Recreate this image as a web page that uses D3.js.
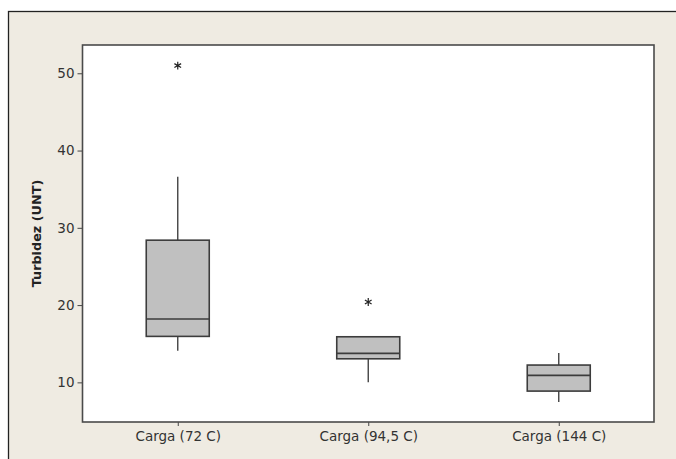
<!DOCTYPE html>
<html>
<head>
<meta charset="utf-8">
<script src="https://cdn.jsdelivr.net/npm/d3@7"></script>
<style>
  html, body { margin: 0; padding: 0; background: #fff; }
  svg { display: block; font-family: "DejaVu Sans", sans-serif; }
</style>
</head>
<body>
<div id="chart"></div>
<script>
//data
const categories = ["Carga (72 C)", "Carga (94,5 C)", "Carga (144 C)"];
const whiskerLow = [14.1, 10.0, 7.45];
const q1 = [15.95, 13.05, 8.87];
const median = [18.2, 13.75, 10.9];
const q3 = [28.4, 15.9, 12.24];
const whiskerHigh = [36.6, 15.9, 13.8];
const outliers = [[51.0], [20.4], []];
const yTicks = [10, 20, 30, 40, 50];
const yLabel = "Turbidez (UNT)";

const boxes = categories.map((c, i) => ({
  cat: c,
  lo: whiskerLow[i],
  q1: q1[i],
  med: median[i],
  q3: q3[i],
  hi: whiskerHigh[i],
  out: outliers[i],
}));

//size
const width = 676, height = 459;
const plot = { left: 82.5, top: 45, right: 654, bottom: 422 };

//scale
const xScale = d3.scalePoint()
  .domain(categories)
  .range([plot.left, plot.right])
  .padding(0.5);

const yScale = d3.scaleLinear()
  .domain([4.87, 53.66])
  .range([plot.bottom, plot.top]);

const boxHalf = 31.5;

//create element
const svg = d3.select("#chart").append("svg")
  .attr("width", width)
  .attr("height", height);

//outer panel
svg.append("rect")
  .attr("x", 8.5).attr("y", 11.5)
  .attr("width", width).attr("height", height)
  .attr("fill", "#efebe2")
  .attr("stroke", "#222")
  .attr("stroke-width", 1.3);

//plot area
svg.append("rect")
  .attr("x", plot.left).attr("y", plot.top)
  .attr("width", plot.right - plot.left)
  .attr("height", plot.bottom - plot.top)
  .attr("fill", "#fff");

//y-axis
const yAxis = svg.append("g")
  .attr("class", "axis y-axis")
  .attr("transform", `translate(${plot.left},0)`)
  .call(d3.axisLeft(yScale).tickValues(yTicks).tickSize(5).tickPadding(3).tickSizeOuter(0));
yAxis.select(".domain").remove();
yAxis.selectAll("line").attr("stroke", "#444");
yAxis.selectAll("text")
  .attr("font-size", 13.5)
  .attr("font-family", "DejaVu Sans, sans-serif")
  .attr("fill", "#333");

//x-axis
const xAxis = svg.append("g")
  .attr("class", "axis x-axis")
  .attr("transform", `translate(0,${plot.bottom})`)
  .call(d3.axisBottom(xScale).tickSize(4).tickPadding(5).tickSizeOuter(0));
xAxis.select(".domain").remove();
xAxis.selectAll("line").attr("stroke", "#444");
xAxis.selectAll("text")
  .attr("font-size", 13.5)
  .attr("font-family", "DejaVu Sans, sans-serif")
  .attr("fill", "#333");

//y label
svg.append("text")
  .attr("transform", `translate(41,${(plot.top + plot.bottom) / 2}) rotate(-90)`)
  .attr("text-anchor", "middle")
  .attr("font-size", 12.8)
  .attr("font-weight", "bold")
  .attr("fill", "#222")
  .text(yLabel);

//plot frame
svg.append("rect")
  .attr("x", plot.left).attr("y", plot.top)
  .attr("width", plot.right - plot.left)
  .attr("height", plot.bottom - plot.top)
  .attr("fill", "none")
  .attr("stroke", "#4a4a4a")
  .attr("stroke-width", 1.6);

//mark
const g = svg.append("g").attr("class", "mark")
  .selectAll("g.box")
  .data(boxes)
  .join("g")
  .attr("class", "box");

g.append("line")
  .attr("x1", (d) => xScale(d.cat)).attr("x2", (d) => xScale(d.cat))
  .attr("y1", (d) => yScale(d.q3)).attr("y2", (d) => yScale(d.hi))
  .attr("stroke", "#444").attr("stroke-width", 1.4);

g.append("line")
  .attr("x1", (d) => xScale(d.cat)).attr("x2", (d) => xScale(d.cat))
  .attr("y1", (d) => yScale(d.q1)).attr("y2", (d) => yScale(d.lo))
  .attr("stroke", "#444").attr("stroke-width", 1.4);

g.append("rect")
  .attr("x", (d) => xScale(d.cat) - boxHalf)
  .attr("y", (d) => yScale(d.q3))
  .attr("width", boxHalf * 2)
  .attr("height", (d) => yScale(d.q1) - yScale(d.q3))
  .attr("fill", "#c0c0c0")
  .attr("stroke", "#3c3c3c")
  .attr("stroke-width", 1.6);

g.append("line")
  .attr("x1", (d) => xScale(d.cat) - boxHalf).attr("x2", (d) => xScale(d.cat) + boxHalf)
  .attr("y1", (d) => yScale(d.med)).attr("y2", (d) => yScale(d.med))
  .attr("stroke", "#3c3c3c").attr("stroke-width", 1.6);

//outliers
g.selectAll("path.outlier")
  .data((d) => d.out.map((v) => ({ cat: d.cat, v })))
  .join("path")
  .attr("class", "outlier")
  .attr("transform", (d) => `translate(${xScale(d.cat)},${yScale(d.v)})`)
  .attr("d", d3.symbol(d3.symbolAsterisk, 42))
  .attr("fill", "none")
  .attr("stroke", "#222")
  .attr("stroke-width", 1.2);
</script>
</body>
</html>
